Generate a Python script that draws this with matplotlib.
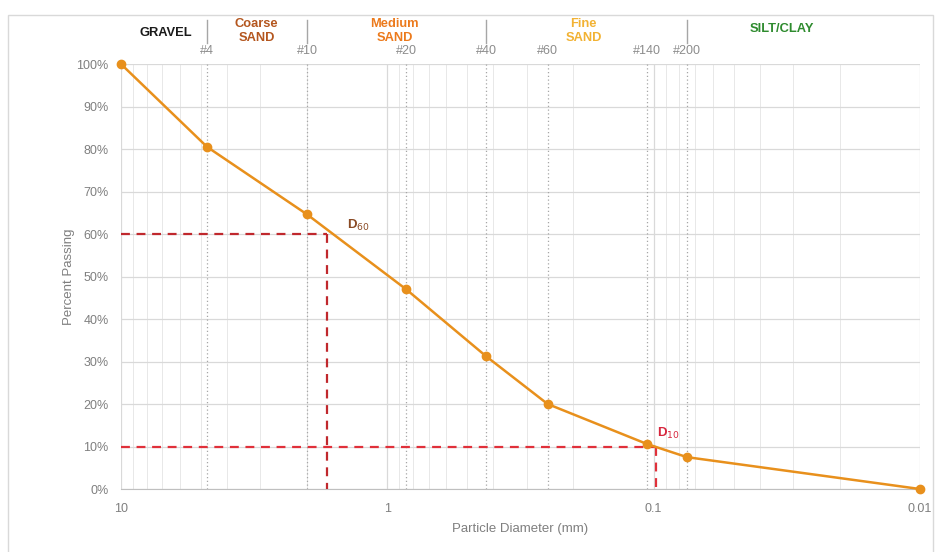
import matplotlib
matplotlib.use("Agg")
import matplotlib.pyplot as plt
import matplotlib.transforms as mtransforms
from matplotlib.ticker import FixedLocator, LogLocator, NullFormatter, PercentFormatter
from matplotlib.patches import Rectangle

plt.rcParams['font.family'] = ['Liberation Sans', 'DejaVu Sans']

# gradation data (sieve size in mm, percent passing)
diameter = [10.0, 4.75, 2.0, 0.85, 0.425, 0.25, 0.106, 0.075, 0.01]
passing = [100.0, 80.5, 64.6, 47.0, 31.2, 20.0, 10.6, 7.5, 0.0]

# sieve labels shown along the top
sieve_names = ["#4", "#10", "#20", "#40", "#60", "#140", "#200"]
sieve_sizes = [4.75, 2.0, 0.85, 0.425, 0.25, 0.106, 0.075]

# soil class bands
class_names = ["GRAVEL", "Coarse\nSAND", "Medium\nSAND", "Fine\nSAND", "SILT/CLAY"]
class_centers = [6.8, 3.1, 0.94, 0.183, 0.033]
class_colors = ["#1a1a1a", "#b4561e", "#ec7a1c", "#f2b233", "#2e8b2e"]
class_bounds = [4.75, 2.0, 0.425, 0.075]

# characteristic diameters
d60 = 1.69
d10 = 0.098

line_color = "#e8901c"
grey_text = "#7f7f7f"

fig = plt.figure(figsize=(9.4, 5.52), dpi=100)
fig.patches.append(Rectangle((0.009, -0.05), 0.984, 1.022, transform=fig.transFigure,
                             fill=False, edgecolor="#d9d9d9", linewidth=1.0))
ax = fig.add_axes([0.1287, 0.1141, 0.85, 0.7699])

ax.set_xscale("log")
ax.set_xlim(10, 0.01)
ax.set_ylim(0, 100)

# grid
ax.xaxis.set_major_locator(FixedLocator([10, 1, 0.1, 0.01]))
ax.xaxis.set_minor_locator(LogLocator(base=10, subs=range(2, 10)))
ax.xaxis.set_minor_formatter(NullFormatter())
ax.set_xticklabels(["10", "1", "0.1", "0.01"])
ax.set_yticks(range(0, 101, 10))
ax.yaxis.set_major_formatter(PercentFormatter(decimals=0))
ax.grid(True, which="major", color="#d9d9d9", linewidth=0.9)
ax.grid(True, which="minor", axis="x", color="#e8e8e8", linewidth=0.7)
ax.tick_params(which="both", length=0, labelsize=9, colors=grey_text)
ax.tick_params(axis="x", pad=10)
ax.tick_params(axis="y", pad=9)
for side in ["top", "left", "right"]:
    ax.spines[side].set_visible(False)
ax.spines["bottom"].set_color("#bfbfbf")

# sieve lines and labels
trans = mtransforms.blended_transform_factory(ax.transData, ax.transAxes)
for name, size in zip(sieve_names, sieve_sizes):
    ax.axvline(size, color="#a6a6a6", linestyle=(0, (1, 2)), linewidth=0.9)
    ax.text(size, 1.016, name, transform=trans, ha="center", va="bottom",
            fontsize=9, color="#8c8c8c")

for bound in class_bounds:
    ax.plot([bound, bound], [1.05, 1.104], transform=trans, color="#a6a6a6",
            linewidth=1.0, clip_on=False)

for name, center, color in zip(class_names, class_centers, class_colors):
    y = 1.078
    if name == "GRAVEL":
        y = 1.072
    elif name == "SILT/CLAY":
        y = 1.083
    ax.text(center, y, name, transform=trans, ha="center", va="center",
            fontsize=9.3, fontweight="bold", color=color, linespacing=1.15)

# D60 and D10 guide lines
ax.plot([10, d60], [60, 60], color="#c0282d", linestyle=(0, (4, 3)), linewidth=1.6, zorder=3)
ax.plot([d60, d60], [60, 0], color="#c0282d", linestyle=(0, (4, 3)), linewidth=1.6, zorder=3)
ax.plot([10, d10], [10, 10], color="#e0303a", linestyle=(0, (4, 3)), linewidth=1.6, zorder=3)
ax.plot([d10, d10], [10, 0], color="#e0303a", linestyle=(0, (4, 3)), linewidth=1.6, zorder=3)
ax.text(1.42, 62, "D$_{60}$", fontsize=9.5, fontweight="bold", color="#8a4a24",
        ha="left", va="center")
ax.text(0.0975, 13, "D$_{10}$", fontsize=9.5, fontweight="bold", color="#d7263d",
        ha="left", va="center")

# gradation curve
ax.plot(diameter, passing, color=line_color, linewidth=1.8, marker="o",
        markersize=6, markerfacecolor=line_color, markeredgecolor=line_color,
        zorder=4, clip_on=False)

ax.set_xlabel("Particle Diameter (mm)", fontsize=9.5, color=grey_text, labelpad=6)
ax.set_ylabel("Percent Passing", fontsize=9.5, color=grey_text, labelpad=1)

fig.savefig("out.png", dpi=100)
